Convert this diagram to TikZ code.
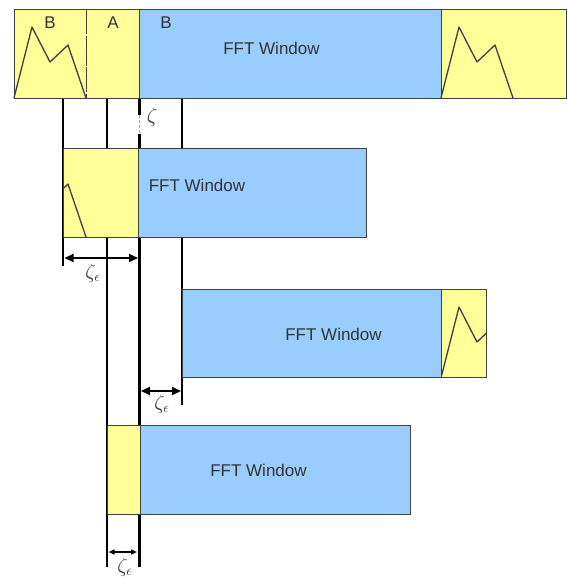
\documentclass[tikz,border=0pt]{standalone}
\usepackage{fontspec}
\setmainfont{Liberation Sans}
\usetikzlibrary{arrows.meta,positioning,calc}
\definecolor{fwyellow}{HTML}{FFFF99}
\definecolor{fwblue}{HTML}{99CCFF}
\definecolor{fwedge}{HTML}{404040}
\definecolor{fwtext}{HTML}{333333}
\tikzset{
  seg/.style={draw=fwedge, line width=0.9pt, inner sep=0pt, outer sep=0pt, anchor=north west},
  guide/.style={black, line width=2.6pt},
  gaparrow/.style={{Triangle[length=9pt,width=8pt]}-{Triangle[length=9pt,width=8pt]}, black, line width=1.8pt},
  peak/.style={fwedge, line width=1.3pt, line join=round},
  wintext/.style={text=fwtext, font=\fontsize{17}{19}\selectfont, inner sep=0pt},
  zlabel/.style={font=\fontsize{20}{22}\selectfont, text=fwtext, inner sep=0pt},
}

\begin{document}
\begin{tikzpicture}[x=1pt, y=-1pt]
  \useasboundingbox (0,0) rectangle (567,579);
  % guide lines, drawn first so the windows cover them
  \coordinate (g1t) at (63,98);    \coordinate (g1b) at (63,266);
  \coordinate (g2t) at (107,98);   \coordinate (g2b) at (107,567);
  \coordinate (g3t) at (139.5,98); \coordinate (g3b) at (139.5,567);
  \coordinate (g4t) at (182,98);   \coordinate (g4b) at (182,405);
  \draw[guide] (g1t) -- (g1b);
  \draw[guide] (g2t) -- (g2b);
  \draw[guide] (g3t) -- ($(g3t)+(0,17)$);
  \draw[black!35, line width=1pt, dash pattern=on 3pt off 2pt] ($(g3t)+(0,17)$) -- ($(g3t)+(0,36)$);
  \draw[guide] ($(g3t)+(0,36)$) -- (g3b);
  \draw[guide] (g4t) -- (g4b);

  % (1) received stream
  \node[seg, fill=fwyellow, minimum width=125, minimum height=89] (yl1) at (14,9) {};
  \node[seg, fill=fwblue, minimum width=302, minimum height=89] (bw1) at (139,9) {};
  \node[seg, fill=fwyellow, minimum width=125, minimum height=89] (yr1) at (441,9) {};
  \draw[fwedge, line width=0.9pt, dash pattern=on 25pt off 1.5pt on 30pt off 1.5pt] (86,9) -- (86,98);
  \draw[peak] (14,98) -- (32,27) -- (50,62) -- (68,45) -- (86,98);
  \draw[peak, shift={(427,0)}] (14,98) -- (32,27) -- (50,62) -- (68,45) -- (86,98);
  \node[wintext] (b1) at (50,23) {B};
  \node[wintext] (a1) at (113,23) {A};
  \node[wintext] (b2) at (166,23) {B};
  \node[wintext] (t1) at (271.5,48) {FFT Window};
  \node[zlabel] (z0) at (152,117) {$\zeta$};

  % (2) window starting early
  \node[seg, fill=fwyellow, minimum width=75, minimum height=89] (yl2) at (63,148) {};
  \node[seg, fill=fwblue, minimum width=228, minimum height=89] (bw2) at (138,148) {};
  \begin{scope}
    \clip (yl2.south west) rectangle (yl2.north east);
    \draw[peak, shift={(0,139)}] (14,98) -- (32,27) -- (50,62) -- (68,45) -- (86,98);
  \end{scope}
  \node[wintext] (t2) at (197,185) {FFT Window};
  \draw[gaparrow] (64.5,258) -- (138,258);
  \node[zlabel] (z1) at (93,273) {$\zeta_\epsilon$};

  % (3) window starting late
  \node[seg, fill=fwblue, minimum width=259, minimum height=88] (bw3) at (182,289) {};
  \node[seg, fill=fwyellow, minimum width=45, minimum height=88] (yr3) at (441,289) {};
  \begin{scope}
    \clip (yr3.south west) rectangle (yr3.north east);
    \draw[peak, shift={(427,280)}] (14,98) -- (32,27) -- (50,62) -- (68,45) -- (86,98);
  \end{scope}
  \node[wintext] (t3) at (333.5,334) {FFT Window};
  \draw[gaparrow] (141,391) -- (181,391);
  \node[zlabel] (z2) at (162,404) {$\zeta_\epsilon$};

  % (4) window inside the guard
  \node[seg, fill=fwyellow, minimum width=33, minimum height=89] (yl4) at (107,425) {};
  \node[seg, fill=fwblue, minimum width=270, minimum height=89] (bw4) at (140,425) {};
  \node[wintext] (t4) at (258.5,470) {FFT Window};
  \draw[gaparrow, {Triangle[length=6pt,width=5pt]}-{Triangle[length=6pt,width=5pt]}, line width=1.4pt] (108.5,552) -- (137,552);
  \node[zlabel] (z3) at (125,567) {$\zeta_\epsilon$};
\end{tikzpicture}
\end{document}
